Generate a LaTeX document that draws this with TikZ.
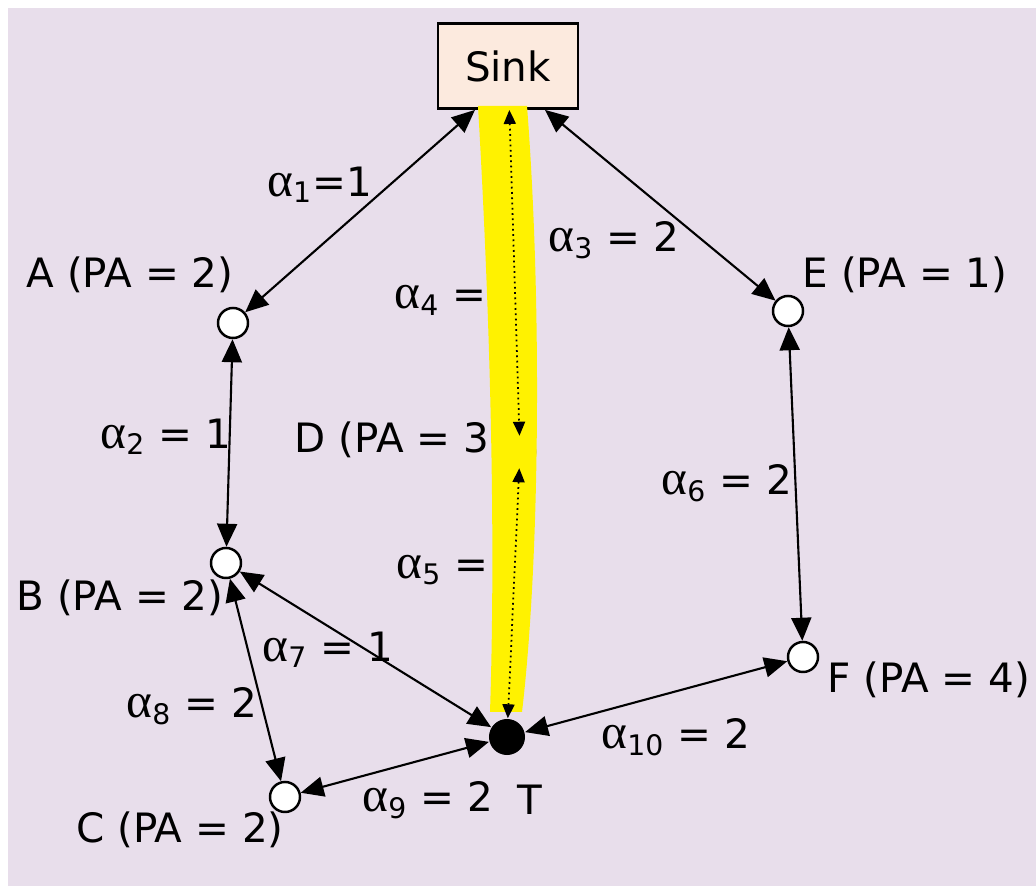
\documentclass[tikz,border=0pt]{standalone}
\usepackage{amsmath}
\usepackage{fontspec}
\setmainfont{DejaVu Sans}
\newfontfamily\grk{Liberation Serif}
\usetikzlibrary{arrows.meta, positioning}
\definecolor{bgpurple}{RGB}{232,222,235}
\definecolor{sinkfill}{RGB}{252,234,222}
\newcommand{\al}[1]{{\grk\fontsize{14}{14}\selectfont α}$_{\text{#1}}$}
\tikzset{
  sensor/.style={draw, circle, line width=0.7pt, fill=white, minimum size=3mm, inner sep=0pt},
  target/.style={circle, fill=black, minimum size=3.6mm, inner sep=0pt},
  sinkbox/.style={draw, line width=0.8pt, fill=sinkfill, minimum width=14mm, minimum height=8.5mm},
  link/.style={{Triangle[length=2.3mm,width=2mm]}-{Triangle[length=2.3mm,width=2mm]}, line width=0.6pt},
  route/.style={{Triangle[length=1.4mm,width=1.2mm]}-{Triangle[length=1.4mm,width=1.2mm]}, densely dotted, line width=0.5pt},
  marker/.style={fill=yellow},
  lab/.style={inner sep=1pt},
  every node/.style={font=\fontsize{11.5}{13}\selectfont}
}
\begin{document}
\begin{tikzpicture}[x=0.01cm,y=-0.01cm]
    \useasboundingbox (0,0) rectangle (1036,886);
    \fill[bgpurple] (8,8) rectangle (1036,886);
    % nodes
    \node[sinkbox] (sink) at (508,66) {Sink};
    \node[sensor] (a) at (233,323) {};
    \node[sensor] (b) at (226,563) {};
    \node[sensor] (c) at (285,797) {};
    \node[sensor] (d) at (520,452) {};
    \node[sensor] (e) at (788,311) {};
    \node[sensor] (f) at (803,657) {};
    \node[target] (t) at (507,737) {};
    \node[lab] (alab) at (130,275) {A (PA = 2)};
    \node[lab] (blab) at (120,598) {B (PA = 2)};
    \node[lab] (clab) at (180,830) {C (PA = 2)};
    \node[lab] (dlab) at (400,440) {D (PA = 3)};
    \node[lab] (elab) at (905,275) {E (PA = 1)};
    \node[lab] (flab) at (929,680) {F (PA = 4)};
    \node[lab] (tlab) at (530,800) {T};
    % links
    \draw[link] ([xshift=-3.3mm]sink.south) -- (a);
    \draw[link] ([xshift=3.7mm]sink.south) -- (e);
    \draw[link] (a) -- (b);
    \draw[link] (e) -- (f);
    \draw[link] (b) -- (t);
    \draw[link] (b) -- (c);
    \draw[link] (c) -- (t);
    \draw[link] (t) -- (f);
    \node[lab] (w1) at (320,185) {\al{1}=1};
    \node[lab] (w2) at (166,437) {\al{2} = 1};
    \node[lab] (w3) at (614,240) {\al{3} = 2};
    \node[lab] (w4) at (460,297) {\al{4} = 2};
    \node[lab] (w5) at (462,567) {\al{5} = 2};
    \node[lab] (w6) at (727,483) {\al{6} = 2};
    \node[lab] (w7) at (328,650) {\al{7} = 1};
    \node[lab] (w8) at (192,706) {\al{8} = 2};
    \node[lab] (w9) at (428,800) {\al{9} = 2};
    \node[lab] (w10) at (676,737) {\al{10} = 2};
    % highlighted route
    \fill[marker] (478,106) .. controls (487,260) and (497,500) .. (490,712)
        -- (522,712) .. controls (540,560) and (542,300) .. (527,106) -- cycle;
    \draw[route] (sink) -- (d);
    \draw[route] (d) -- (t);
\end{tikzpicture}
\end{document}
